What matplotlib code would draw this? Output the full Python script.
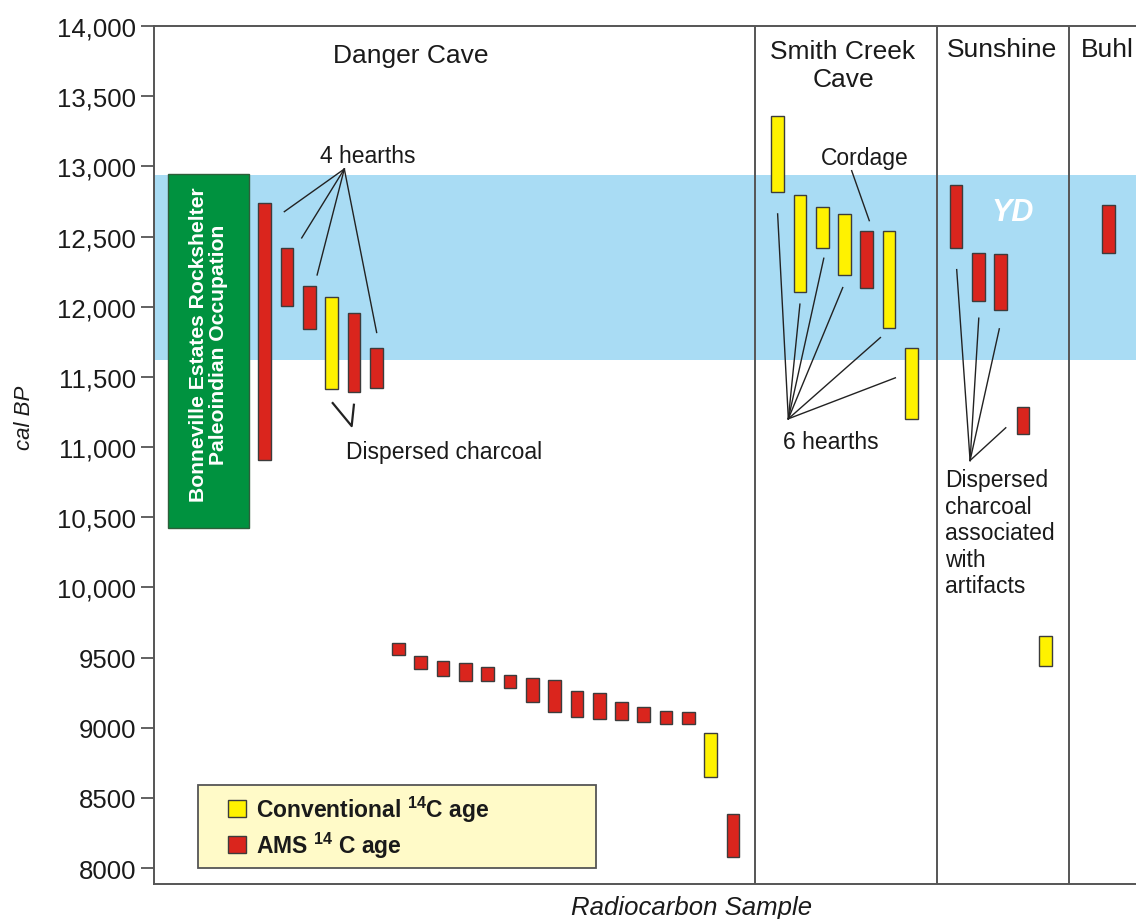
import matplotlib
matplotlib.use("Agg")
import matplotlib.pyplot as plt
from matplotlib.patches import Rectangle

plt.rcParams['font.family'] = ['Liberation Sans', 'DejaVu Sans']
plt.rcParams['mathtext.fontset'] = 'custom'
plt.rcParams['mathtext.rm'] = 'Liberation Sans:bold'

# ---- data: calibrated age ranges (cal BP) per radiocarbon sample ----
danger_pos = list(range(22))
danger_top = [12740, 12420, 12145, 12070, 11955, 11705,
              9600, 9510, 9478, 9458, 9434, 9377, 9356, 9342,
              9259, 9244, 9180, 9145, 9119, 9109, 8964, 8385]
danger_bot = [10905, 12008, 11842, 11410, 11395, 11417,
              9518, 9418, 9365, 9333, 9333, 9283, 9183, 9114,
              9076, 9062, 9055, 9041, 9026, 9026, 8649, 8079]
danger_type = ['AMS', 'AMS', 'AMS', 'Conv', 'AMS', 'AMS'] + ['AMS'] * 14 + ['Conv', 'AMS']

smith_pos = [23, 24, 25, 26, 27, 28, 29]
smith_top = [13361, 12798, 12711, 12661, 12540, 12538, 11707]
smith_bot = [12816, 12103, 12417, 12229, 12132, 11849, 11201]
smith_type = ['Conv', 'Conv', 'Conv', 'Conv', 'AMS', 'Conv', 'Conv']

sunshine_pos = [31, 32, 33, 34, 35]
sunshine_top = [12865, 12383, 12376, 11286, 9650]
sunshine_bot = [12417, 12041, 11977, 11096, 9439]
sunshine_type = ['AMS', 'AMS', 'AMS', 'AMS', 'Conv']

buhl_pos = [37.85]
buhl_top = [12723]
buhl_bot = [12383]
buhl_type = ['AMS']

site_bounds = [21.97, 30.15, 36.07]
yd_range = (11620, 12940)
bonneville_range = (10425, 12946)
bonneville_x = (-4.32, -0.69)

y_ticks = [8000, 8500, 9000, 9500, 10000, 10500, 11000, 11500,
           12000, 12500, 13000, 13500, 14000]
y_tick_labels = ['8000', '8500', '9000', '9500', '10,000', '10,500', '11,000',
                 '11,500', '12,000', '12,500', '13,000', '13,500', '14,000']

# ---- styling ----
RED = '#DA251D'
YELLOW = '#FFF200'
EDGE = '#3C3C3C'
BAND = '#A9DCF4'
GREEN = '#00923F'
LEGEND_BG = '#FFFAC8'
AXIS = '#555555'
colors = {'AMS': RED, 'Conv': YELLOW}
BAR_W = 0.57

W, H = 1136, 920
fig = plt.figure(figsize=(W / 100, H / 100), dpi=100)
ax = fig.add_axes([154 / W, (H - 885) / H, (1136 - 154) / W, (885 - 27) / H])

ax.set_xlim(-4.964, 39.07)
ax.set_ylim(7886, 14000)

# Younger Dryas band
ax.axhspan(*yd_range, color=BAND, zorder=0, lw=0)

# site separators
for xb in site_bounds:
    ax.axvline(xb, color=AXIS, lw=1.4, zorder=1)

# Bonneville Estates box
ax.add_patch(Rectangle((bonneville_x[0], bonneville_range[0]),
                       bonneville_x[1] - bonneville_x[0],
                       bonneville_range[1] - bonneville_range[0],
                       facecolor=GREEN, edgecolor='#2E5E3A', lw=1.0, zorder=2))
ax.text(sum(bonneville_x) / 2 - 0.03, 11735,
        'Bonneville Estates Rockshelter\nPaleoindian Occupation',
        rotation=90, ha='center', va='center', color='white',
        fontsize=15.2, fontweight='bold', linespacing=1.08, zorder=3)

# sample bars
for pos, top, bot, typ in [(danger_pos, danger_top, danger_bot, danger_type),
                           (smith_pos, smith_top, smith_bot, smith_type),
                           (sunshine_pos, sunshine_top, sunshine_bot, sunshine_type),
                           (buhl_pos, buhl_top, buhl_bot, buhl_type)]:
    heights = [t - b for t, b in zip(top, bot)]
    ax.bar(pos, heights, bottom=bot, width=BAR_W,
           color=[colors[t] for t in typ], edgecolor=EDGE, linewidth=1.0, zorder=3)

# site headers
hdr = dict(fontsize=19, ha='center', va='center', color='#1a1a1a')
ax.text(6.56, 13790, 'Danger Cave', **hdr)
ax.text(25.93, 13722, 'Smith Creek\nCave', linespacing=1.22, **hdr)
ax.text(33.06, 13836, 'Sunshine', **hdr)
ax.text(36.6, 13836, 'Buhl', fontsize=19, ha='left', va='center', color='#1a1a1a')

# YD label
ax.text(33.55, 12675, 'YD', fontsize=22, fontweight='bold', style='italic',
        color='white', ha='center', va='center', zorder=4)

# annotations with leader lines
ann = dict(fontsize=16.5, color='#1a1a1a')
lk = dict(color='#222222', lw=1.0, zorder=4)

ax.text(4.63, 13080, '4 hearths', ha='center', va='center', **ann)
hub = (3.57, 12981)
for ex, ey in [(0.88, 12677), (1.66, 12490), (2.35, 12226), (5.02, 11816)]:
    ax.plot([hub[0], ex], [hub[1], ey], **lk)

ax.plot([3.05, 3.90, 4.0], [11313, 11149, 11301], color='#222222', lw=1.6, zorder=4)
ax.text(3.65, 10965, 'Dispersed charcoal', ha='left', va='center', **ann)

ax.text(26.89, 13060, 'Cordage', ha='center', va='center', **ann)
ax.plot([26.32, 27.11], [12969, 12613], **lk)

ax.text(23.24, 11040, '6 hearths', ha='left', va='center', **ann)
hub = (23.48, 11201)
for ex, ey in [(23.0, 12661), (24.0, 12018), (25.07, 12345),
               (25.92, 12136), (27.61, 11780), (28.28, 11493)]:
    ax.plot([hub[0], ex], [hub[1], ey], **lk)

hub = (31.63, 10904)
for ex, ey in [(31.03, 12264), (32.02, 11918), (32.94, 11842), (33.23, 11137)]:
    ax.plot([hub[0], ex], [hub[1], ey], **lk)
ax.text(30.51, 10850, 'Dispersed\ncharcoal\nassociated\nwith\nartifacts',
        ha='left', va='top', linespacing=1.2, **ann)

# legend box
ax.add_patch(Rectangle((0.0445, 0.0183), 0.4053, 0.0971, transform=ax.transAxes,
                       facecolor=LEGEND_BG, edgecolor=AXIS, lw=1.3, zorder=5))
ax.add_patch(Rectangle((0.0751, 0.0776), 0.0183, 0.0207, transform=ax.transAxes,
                       facecolor=YELLOW, edgecolor=EDGE, lw=1.0, zorder=6))
ax.add_patch(Rectangle((0.0751, 0.0357), 0.0183, 0.0206, transform=ax.transAxes,
                       facecolor=RED, edgecolor=EDGE, lw=1.0, zorder=6))
ax.text(0.1039, 0.088, r'Conventional $^{14}$C age', transform=ax.transAxes,
        fontsize=16.5, fontweight='bold', va='center', ha='left', color='#1a1a1a', zorder=6)
ax.text(0.1039, 0.046, r'AMS $^{14}$ C age', transform=ax.transAxes,
        fontsize=16.5, fontweight='bold', va='center', ha='left', color='#1a1a1a', zorder=6)

# axes styling
ax.set_yticks(y_ticks)
ax.set_yticklabels(y_tick_labels)
ax.set_xticks([])
ax.tick_params(axis='y', length=9.5, width=1.3, color=AXIS, labelsize=18.5,
               pad=3.5, labelcolor='#1a1a1a')
for side in ['left', 'top', 'bottom']:
    ax.spines[side].set_color(AXIS)
    ax.spines[side].set_linewidth(1.4)
ax.spines['right'].set_visible(False)

fig.text(25 / W, 1 - 418 / H, 'cal BP', rotation=90, style='italic',
         fontsize=16, ha='center', va='center', color='#1a1a1a')
fig.text(692 / W, 1 - 908 / H, 'Radiocarbon Sample', style='italic',
         fontsize=18.5, ha='center', va='center', color='#1a1a1a')

fig.savefig('out.png', dpi=100)
